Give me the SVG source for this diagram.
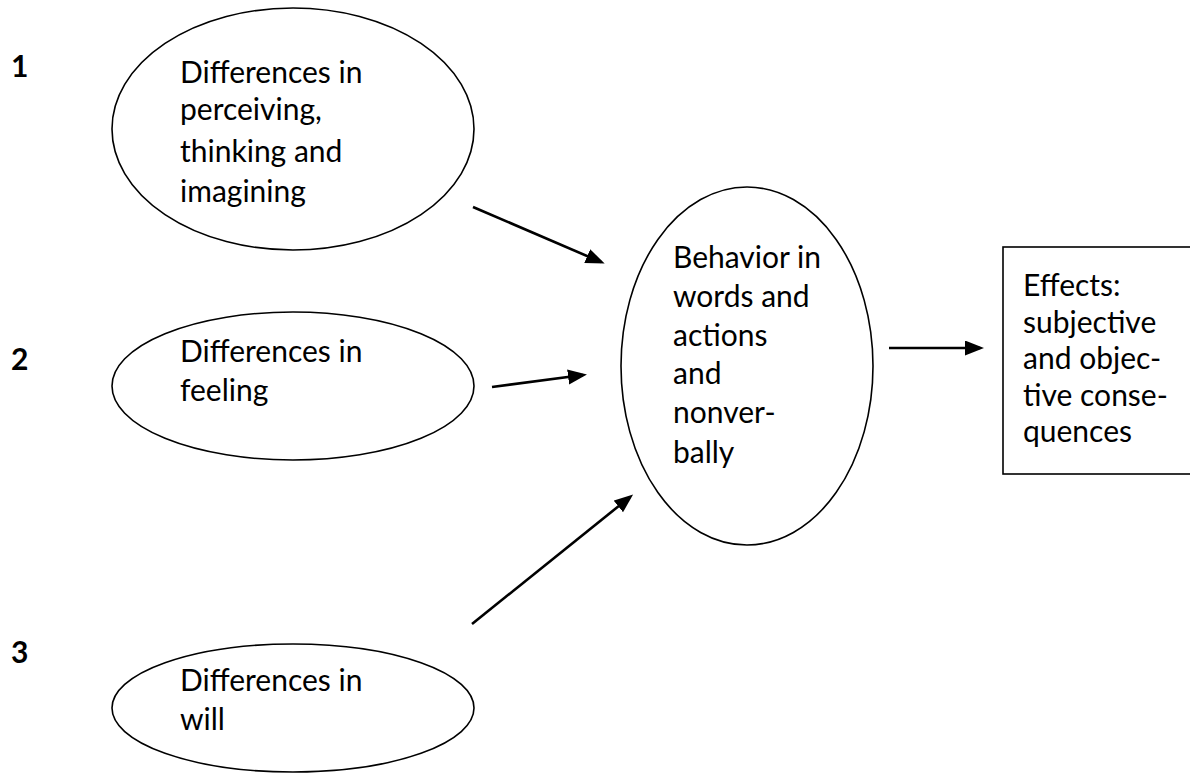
<svg xmlns="http://www.w3.org/2000/svg" width="1190" height="773" viewBox="0 0 1190 773">
<style>
.shape{fill:#fff;stroke:#000;stroke-width:1.6}
.t{font-family:Lato,"Liberation Sans",sans-serif;font-size:30px;fill:#000}
.num{font-family:Lato,"Liberation Sans",sans-serif;font-size:30px;font-weight:bold;fill:#000}
.conn{fill:none;stroke:#000;stroke-width:2.6;marker-end:url(#ah)}
</style>
<defs>
<marker id="ah" markerUnits="userSpaceOnUse" markerWidth="20" markerHeight="16" refX="15" refY="7.5" orient="auto">
<path d="M0,0 L19,7.5 L0,15 z" fill="#000"/>
</marker>
</defs>
<rect width="1190" height="773" fill="#fff"/>
<g id="labels">
<text class="num" x="11" y="77">1</text>
<text class="num" x="11" y="370">2</text>
<text class="num" x="11" y="663">3</text>
</g>
<g id="node1">
<ellipse class="shape" cx="293" cy="129" rx="181" ry="121"/>
<text class="t" x="180" y="83">Differences in</text>
<text class="t" x="180" y="120">perceiving,</text>
<text class="t" x="180" y="162">thinking and</text>
<text class="t" x="180" y="202">imagining</text>
</g>
<g id="node2">
<ellipse class="shape" cx="293" cy="386" rx="181" ry="74"/>
<text class="t" x="180" y="362">Differences in</text>
<text class="t" x="180" y="401">feeling</text>
</g>
<g id="node3">
<ellipse class="shape" cx="293" cy="708" rx="181" ry="64"/>
<text class="t" x="180" y="691">Differences in</text>
<text class="t" x="180" y="730">will</text>
</g>
<g id="behavior">
<ellipse class="shape" cx="747" cy="366" rx="126" ry="179"/>
<text class="t" x="673" y="268">Behavior in</text>
<text class="t" x="673" y="307">words and</text>
<text class="t" x="673" y="346">actions</text>
<text class="t" x="673" y="384">and</text>
<text class="t" x="673" y="423">nonver-</text>
<text class="t" x="673" y="463">bally</text>
</g>
<g id="effects">
<rect class="shape" x="1003" y="247" width="200" height="227"/>
<text class="t" x="1023" y="296">Effects:</text>
<text class="t" x="1023" y="333">subjective</text>
<text class="t" x="1023" y="369">and objec-</text>
<text class="t" x="1023" y="406">tive conse-</text>
<text class="t" x="1023" y="442">quences</text>
</g>
<g id="connectors">
<path class="conn" d="M473,207 L601,262"/>
<path class="conn" d="M492,387 L583,375"/>
<path class="conn" d="M472,624 L630,497"/>
<path class="conn" d="M889,348 L980,348"/>
</g>
</svg>
